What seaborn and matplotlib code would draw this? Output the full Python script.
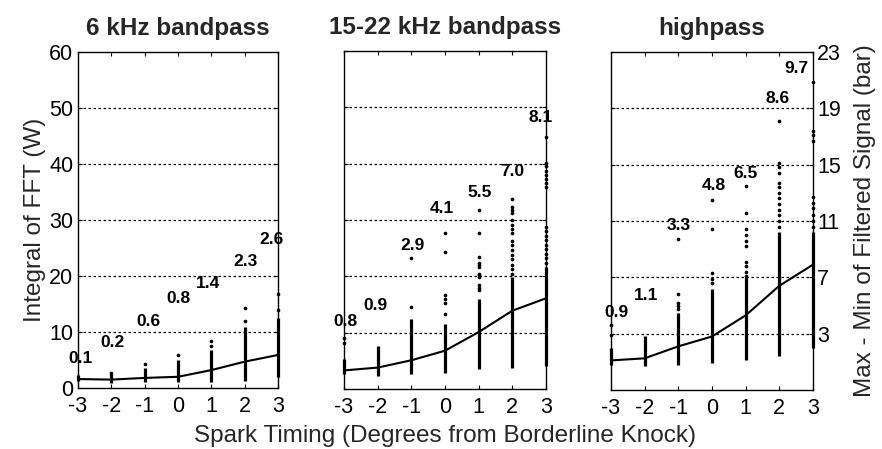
import matplotlib
matplotlib.use("Agg")
import matplotlib.pyplot as plt
import seaborn as sns
import pandas as pd

# ---------------- data ----------------
spark = [-3, -2, -1, 0, 1, 2, 3]

titles = ["6 kHz bandpass", "15-22 kHz bandpass", "highpass"]

# mean curves
mean_6k = [1.6, 1.5, 1.8, 2.0, 3.2, 4.7, 5.9]
mean_15k = [3.3, 3.8, 5.1, 6.8, 10.1, 13.9, 16.1]
mean_hp = [1.1, 1.25, 2.1, 2.8, 4.3, 6.4, 7.9]

# dense part of each column (low / high)
lo_6k = [1.2, 0.9, 1.1, 1.1, 1.1, 1.3, 2.0]
hi_6k = [2.3, 2.5, 3.6, 5.0, 6.8, 10.9, 12.5]
lo_15k = [2.6, 2.3, 2.6, 2.9, 3.6, 3.8, 4.1]
hi_15k = [5.3, 7.7, 12.5, 11.6, 16.0, 19.8, 21.6]
lo_hp = [0.75, 0.7, 0.75, 0.9, 1.1, 1.4, 2.0]
hi_hp = [1.95, 2.8, 4.5, 6.2, 7.0, 10.2, 10.2]

# individual points above the dense part
pts_6k_x = [-2, -1, 0, 1, 1, 2, 2, 3, 3]
pts_6k_y = [2.7, 4.3, 5.9, 7.5, 8.4, 12.0, 14.2, 14.0, 16.8]

pts_15k_x = [-3, -3,
             -1, -1,
             0, 0, 0, 0, 0, 0,
             1, 1, 1, 1, 1, 1, 1, 1, 1, 1, 1, 1,
             2, 2, 2, 2, 2, 2, 2, 2, 2, 2, 2, 2, 2, 2, 2, 2,
             3, 3, 3, 3, 3, 3, 3, 3, 3, 3, 3, 3, 3, 3, 3, 3, 3]
pts_15k_y = [8.2, 9.1,
             14.5, 23.2,
             13.4, 15.2, 15.9, 16.6, 24.3, 27.7,
             17.5, 18.0, 18.4, 19.8, 20.2, 20.5, 21.6, 22.0, 22.3, 23.4, 27.7, 31.7,
             20.5, 21.3, 22.1, 23.0, 23.8, 24.6, 25.5, 26.3, 27.7, 28.4, 29.2, 30.0, 31.2, 31.8, 32.3, 33.8,
             22.4, 23.2, 24.0, 24.8, 25.6, 26.4, 27.2, 28.0, 28.8, 35.9, 36.6, 37.3, 38.0, 38.7, 39.5, 40.2, 44.8]

pts_hp_x = [-3, -3,
            -1, -1, -1, -1, -1,
            0, 0, 0, 0, 0,
            1, 1, 1, 1, 1, 1, 1, 1, 1, 1,
            2, 2, 2, 2, 2, 2, 2, 2, 2, 2, 2, 2, 2,
            3, 3, 3, 3, 3, 3, 3, 3, 3, 3]
pts_hp_y = [2.9, 3.6,
            4.75, 5.0, 5.2, 5.8, 9.7,
            6.6, 6.9, 7.3, 10.4, 12.5,
            7.1, 7.4, 7.8, 8.1, 9.2, 9.6, 10.0, 10.4, 11.6, 13.5,
            10.6, 11.0, 11.4, 11.8, 12.2, 12.6, 13.0, 13.4, 13.7, 14.4, 14.8, 15.1, 18.1,
            10.6, 11.0, 11.4, 11.9, 12.3, 12.7, 16.7, 17.1, 17.4, 20.9]

# annotation numbers
ann_6k = ["0.1", "0.2", "0.6", "0.8", "1.4", "2.3", "2.6"]
ann_6k_x = [-2.94, -1.98, -0.9, 0.0, 0.9, 2.04, 2.82]
ann_6k_y = [5.3, 8.1, 11.9, 16.0, 18.6, 22.5, 26.6]
ann_15k = ["0.8", "0.9", "2.9", "4.1", "5.5", "7.0", "8.1"]
ann_15k_x = [-2.97, -2.08, -0.98, -0.09, 1.04, 1.99, 2.85]
ann_15k_y = [12.0, 14.8, 25.5, 32.0, 34.8, 38.6, 48.2]
ann_hp = ["0.9", "1.1", "3.3", "4.8", "6.5", "8.6", "9.7"]
ann_hp_x = [-2.85, -1.95, -1.0, 0.05, 1.0, 1.95, 2.52]
ann_hp_y = [4.5, 5.7, 10.7, 13.5, 14.4, 19.7, 21.8]

left_ticks = [0, 10, 20, 30, 40, 50, 60]
right_ticks = [3, 7, 11, 15, 19, 23]

# ---------------- style ----------------
sns.set_style("white")
plt.rcParams["font.family"] = ["Liberation Sans", "DejaVu Sans"]
plt.rcParams["axes.unicode_minus"] = False

fig = plt.figure(figsize=(8.82, 4.49), dpi=100)
W, H = 882, 449

def box(x0, x1, ytop, ybot):
    return [x0 / W, 1 - ybot / H, (x1 - x0) / W, (ybot - ytop) / H]

ax1 = fig.add_axes(box(78, 278, 52, 388))
ax2 = fig.add_axes(box(344, 546, 51, 389))
ax3 = fig.add_axes(box(611, 813, 52, 390))

panels = [
    (ax1, mean_6k, lo_6k, hi_6k, pts_6k_x, pts_6k_y, ann_6k, ann_6k_x, ann_6k_y),
    (ax2, mean_15k, lo_15k, hi_15k, pts_15k_x, pts_15k_y, ann_15k, ann_15k_x, ann_15k_y),
    (ax3, mean_hp, lo_hp, hi_hp, pts_hp_x, pts_hp_y, ann_hp, ann_hp_x, ann_hp_y),
]

for i, (ax, mean, lo, hi, px, py, ann, ax_x, ax_y) in enumerate(panels):
    ax.set_facecolor("white")
    # dense columns of points
    ax.vlines(spark, lo, hi, colors="black", linewidth=2.3, zorder=3, clip_on=False)
    pts = pd.DataFrame({"x": px, "y": py})
    sns.scatterplot(data=pts, x="x", y="y", ax=ax, color="black", s=7,
                    linewidth=0, zorder=3, legend=False, clip_on=False)
    mdf = pd.DataFrame({"x": spark, "y": mean})
    sns.lineplot(data=mdf, x="x", y="y", ax=ax, color="black", linewidth=1.5,
                 zorder=4, legend=False)
    for t, tx, ty in zip(ann, ax_x, ax_y):
        ax.text(tx, ty, t, ha="center", va="center", fontsize=12.5,
                fontweight="bold", color="black", zorder=5)
    ax.set_xlim(-3, 3)
    ax.set_xticks(spark)
    ax.set_xticklabels([str(v) for v in spark])
    ax.set_xlabel("")
    ax.set_ylabel("")
    ax.set_title(titles[i], fontsize=17.5, fontweight="bold", pad=12)
    for s in ax.spines.values():
        s.set_color("black")
        s.set_linewidth(1.0)
        s.set_visible(True)
    ax.tick_params(axis="both", direction="in", length=3, width=0.8,
                   colors="black", labelsize=15.5, top=True, bottom=True,
                   left=True, right=True)
    ax.tick_params(axis="x", pad=6)

# left & middle: 0..60 scale
for ax in (ax1, ax2):
    ax.set_ylim(0, 60)
    ax.set_yticks(left_ticks)
    ax.grid(False)
    for v in left_ticks[1:-1]:
        ax.axhline(v, color="black", linewidth=0.9, linestyle=(0, (2, 2)), zorder=1)
ax1.set_yticklabels([str(v) for v in left_ticks])
ax2.set_yticklabels([])
ax1.set_ylabel("Integral of FFT (W)", fontsize=17.5, labelpad=2)

# right panel: bar scale on right
ax3.set_ylim(-1, 23)
ax3.set_yticks(right_ticks)
ax3.yaxis.tick_right()
ax3.tick_params(axis="y", left=True, right=True, labelleft=False, labelright=True,
                direction="in", labelsize=15.5, pad=3)
ax3.set_yticklabels([str(v) for v in right_ticks])
for v in right_ticks[:-1]:
    ax3.axhline(v, color="black", linewidth=0.9, linestyle=(0, (2, 2)), zorder=1)
ax3.yaxis.set_label_position("right")
ax3.set_ylabel("Max - Min of Filtered Signal (bar)", fontsize=17.5, labelpad=9)

fig.text(445 / W, 1 - 436 / H, "Spark Timing (Degrees from Borderline Knock)",
         ha="center", va="center", fontsize=17.5)

fig.savefig("out.png", dpi=100, facecolor="white")
